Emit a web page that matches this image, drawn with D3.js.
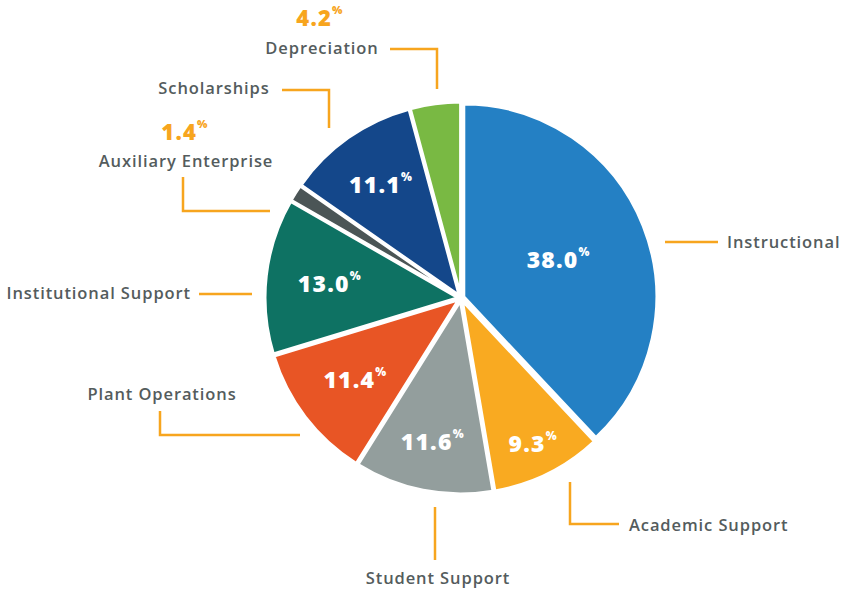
<!DOCTYPE html>
<html><head><meta charset="utf-8">
<script src="https://cdn.jsdelivr.net/npm/d3@7"></script>
<style>
html,body{margin:0;padding:0;background:#fff;}
svg{display:block;}
</style></head>
<body>
<script>
// ---- data ----
const categories = ["Instructional","Academic Support","Student Support","Plant Operations","Institutional Support","Auxiliary Enterprise","Scholarships","Depreciation"];
const values = [38.0, 9.3, 11.6, 11.4, 13.0, 1.4, 11.1, 4.2];
const colors = ["#2480c4","#f9aa21","#939e9d","#e85525","#0e7263","#4b5556","#14478a","#79b943"];
// values shown outside (small slices)
const outsideValue = [false,false,false,false,false,true,false,true];

// ---- layout config ----
const W = 841, H = 589;
const cx = 461, cy = 298, R = 193, explode = 3;
const labelRadius = [105,162,146,133,132,0,139,0];
const callouts = [
  {pts:[[665,242],[718,242]], text:[727,241], anchor:"start"},
  {pts:[[570,482],[570,524],[619,524]], text:[629,524], anchor:"start"},
  {pts:[[435,507],[435,560]], text:[438,577], anchor:"middle"},
  {pts:[[160,411],[160,435],[300,435]], text:[162,393], anchor:"middle"},
  {pts:[[199,294],[252,294]], text:[191,292], anchor:"end"},
  {pts:[[183,177],[183,211],[270,211]], text:[186,160], anchor:"middle", val:[185,131]},
  {pts:[[282,90],[329,90],[329,128]], text:[214,87], anchor:"middle"},
  {pts:[[390,49],[437,49],[437,89]], text:[322,47], anchor:"middle", val:[320,17]}
];

const svg = d3.select("body").append("svg").attr("width",W).attr("height",H);

const pie = d3.pie().sort(null).value(d=>d)(values);
const arc = d3.arc().innerRadius(0).outerRadius(R);

const g = svg.append("g").attr("transform",`translate(${cx},${cy})`);
g.selectAll("path").data(pie).join("path")
  .attr("d",arc)
  .attr("transform",d=>{const a=(d.startAngle+d.endAngle)/2; return `translate(${explode*Math.sin(a)},${-explode*Math.cos(a)})`;})
  .attr("fill",(d,i)=>colors[i])
  .attr("stroke","#fff").attr("stroke-width",3).attr("stroke-linejoin","miter");

const fmt = d3.format(".1f");

// inner labels
pie.forEach((d,i)=>{
  if(outsideValue[i]) return;
  const a = (d.startAngle+d.endAngle)/2;
  const r = labelRadius[i];
  const x = r*Math.sin(a), y = -r*Math.cos(a);
  const t = g.append("text").attr("x",x).attr("y",y).attr("text-anchor","middle")
    .attr("dominant-baseline","central")
    .attr("font-family","'Open Sans', sans-serif").attr("font-weight",800)
    .attr("font-size",23).attr("fill","#fff").attr("letter-spacing",1.2);
  t.append("tspan").text(fmt(values[i]));
  t.append("tspan").text("%").attr("font-size",11.5).attr("dy",-8);
});

// callouts
const line = d3.line();
callouts.forEach((c,i)=>{
  svg.append("path").attr("d",line(c.pts)).attr("fill","none")
    .attr("stroke","#f7a51e").attr("stroke-width",2.5);
  svg.append("text").attr("x",c.text[0]).attr("y",c.text[1])
    .attr("text-anchor",c.anchor).attr("dominant-baseline","central")
    .attr("font-family","'Open Sans', sans-serif").attr("font-weight",600)
    .attr("font-size",16.5).attr("fill","#545c5d").attr("letter-spacing",0.9)
    .text(categories[i]);
  if(outsideValue[i]){
    const t = svg.append("text").attr("x",c.val[0]).attr("y",c.val[1])
      .attr("text-anchor","middle").attr("dominant-baseline","central")
      .attr("font-family","'Open Sans', sans-serif").attr("font-weight",800)
      .attr("font-size",22).attr("fill","#f7a51e").attr("letter-spacing",1.2);
    t.append("tspan").text(fmt(values[i]));
    t.append("tspan").text("%").attr("font-size",11).attr("dy",-8);
  }
});
</script>
</body></html>
